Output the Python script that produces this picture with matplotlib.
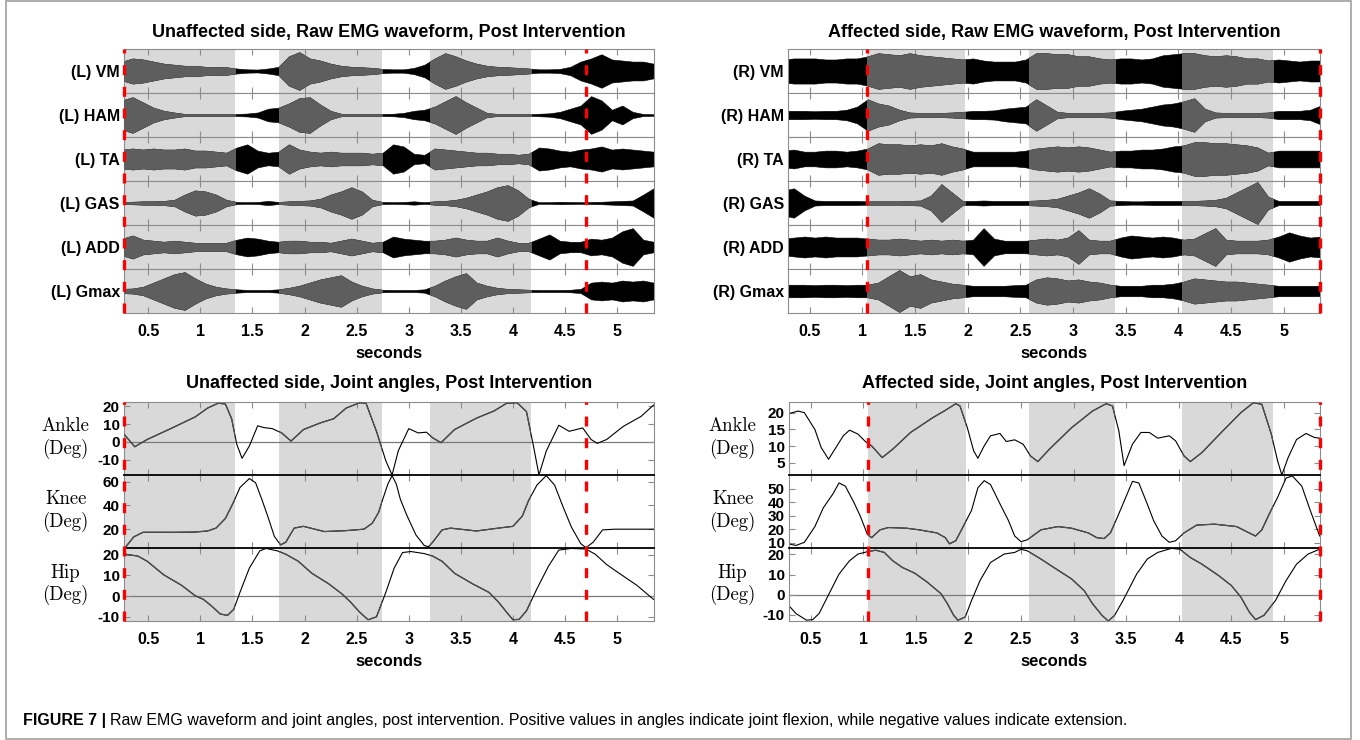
import numpy as np
import matplotlib
matplotlib.use("Agg")
import matplotlib.pyplot as plt
from matplotlib.patches import Rectangle

plt.rcParams['font.family'] = 'Liberation Sans'
plt.rcParams['axes.unicode_minus'] = False

W, H = 1360, 740

# ---- EMG envelopes (half amplitude, 0..1), sampled every 0.1 s ----
emg_t = np.round(np.arange(0.25, 5.36, 0.1), 2)

vm_l = [0.45, 0.6, 0.55, 0.45, 0.35, 0.3, 0.25, 0.25, 0.2, 0.2, 0.18, 0.12, 0.08, 0.07, 0.12, 0.2, 0.7, 0.9, 0.6, 0.5,
        0.35, 0.25, 0.2, 0.18, 0.15, 0.1, 0.08, 0.08, 0.15, 0.3, 0.6, 0.85, 0.7, 0.5, 0.35, 0.25, 0.2, 0.18, 0.15, 0.12,
        0.08, 0.08, 0.1, 0.2, 0.45, 0.6, 0.8, 0.55, 0.5, 0.45, 0.45, 0.35]
ham_l = [0.7, 0.85, 0.6, 0.35, 0.2, 0.12, 0.05, 0.04, 0.04, 0.04, 0.04, 0.05, 0.07, 0.12, 0.3, 0.35, 0.55, 0.8, 0.85, 0.5,
         0.2, 0.06, 0.04, 0.04, 0.04, 0.05, 0.06, 0.1, 0.2, 0.25, 0.4, 0.65, 0.9, 0.6, 0.35, 0.1, 0.05, 0.04, 0.04, 0.04,
         0.06, 0.08, 0.15, 0.3, 0.45, 0.9, 0.7, 0.25, 0.45, 0.15, 0.05, 0.04]
ta_l = [0.45, 0.5, 0.45, 0.5, 0.45, 0.45, 0.5, 0.4, 0.4, 0.35, 0.3, 0.55, 0.7, 0.4, 0.3, 0.35, 0.7, 0.45, 0.35, 0.3,
        0.35, 0.3, 0.3, 0.3, 0.25, 0.3, 0.7, 0.6, 0.25, 0.2, 0.5, 0.45, 0.4, 0.35, 0.3, 0.3, 0.25, 0.25, 0.2, 0.25,
        0.55, 0.5, 0.4, 0.35, 0.45, 0.5, 0.6, 0.45, 0.5, 0.45, 0.4, 0.35]
gas_l = [0.05, 0.06, 0.08, 0.08, 0.1, 0.15, 0.4, 0.6, 0.55, 0.4, 0.15, 0.05, 0.04, 0.05, 0.1, 0.05, 0.08, 0.1, 0.12, 0.2,
         0.4, 0.55, 0.75, 0.55, 0.15, 0.05, 0.04, 0.05, 0.08, 0.04, 0.08, 0.1, 0.15, 0.25, 0.4, 0.55, 0.75, 0.85, 0.6, 0.2,
         0.04, 0.04, 0.06, 0.05, 0.04, 0.05, 0.06, 0.08, 0.1, 0.12, 0.4, 0.7]
add_l = [0.4, 0.55, 0.35, 0.3, 0.25, 0.3, 0.25, 0.2, 0.2, 0.2, 0.2, 0.35, 0.45, 0.4, 0.3, 0.25, 0.3, 0.3, 0.25, 0.25,
         0.2, 0.3, 0.4, 0.3, 0.2, 0.25, 0.5, 0.4, 0.35, 0.3, 0.3, 0.35, 0.45, 0.35, 0.3, 0.3, 0.45, 0.3, 0.2, 0.2,
         0.4, 0.6, 0.3, 0.25, 0.25, 0.4, 0.35, 0.45, 0.75, 0.9, 0.35, 0.25]
gmax_l = [0.1, 0.12, 0.2, 0.4, 0.6, 0.8, 0.9, 0.6, 0.35, 0.2, 0.12, 0.08, 0.05, 0.05, 0.05, 0.08, 0.15, 0.25, 0.4, 0.55,
          0.65, 0.75, 0.45, 0.25, 0.12, 0.06, 0.05, 0.05, 0.05, 0.08, 0.25, 0.5, 0.7, 0.85, 0.4, 0.25, 0.15, 0.1, 0.08, 0.06,
          0.05, 0.05, 0.05, 0.06, 0.1, 0.4, 0.45, 0.4, 0.5, 0.45, 0.5, 0.4]

vm_r = [0.55, 0.6, 0.6, 0.6, 0.55, 0.55, 0.6, 0.6, 0.7, 0.85, 0.8, 0.75, 0.85, 0.75, 0.7, 0.65, 0.6, 0.55, 0.6, 0.5,
        0.45, 0.45, 0.45, 0.55, 0.85, 0.85, 0.8, 0.8, 0.7, 0.7, 0.6, 0.55, 0.6, 0.6, 0.55, 0.6, 0.75, 0.8, 0.85, 0.85,
        0.75, 0.7, 0.75, 0.7, 0.6, 0.6, 0.5, 0.55, 0.5, 0.45, 0.5, 0.5]
ham_r = [0.2, 0.2, 0.2, 0.18, 0.2, 0.2, 0.25, 0.4, 0.75, 0.55, 0.45, 0.25, 0.12, 0.1, 0.1, 0.1, 0.12, 0.15, 0.2, 0.2,
         0.22, 0.3, 0.35, 0.4, 0.75, 0.45, 0.15, 0.1, 0.1, 0.1, 0.1, 0.12, 0.2, 0.25, 0.3, 0.4, 0.5, 0.55, 0.65, 0.8,
         0.3, 0.12, 0.1, 0.1, 0.1, 0.1, 0.12, 0.2, 0.2, 0.2, 0.25, 0.45]
ta_r = [0.4, 0.45, 0.35, 0.35, 0.4, 0.4, 0.35, 0.4, 0.5, 0.75, 0.7, 0.7, 0.65, 0.7, 0.65, 0.75, 0.6, 0.5, 0.35, 0.35,
        0.35, 0.35, 0.35, 0.4, 0.5, 0.55, 0.6, 0.55, 0.6, 0.55, 0.45, 0.35, 0.4, 0.4, 0.45, 0.45, 0.5, 0.6, 0.65, 0.8,
        0.8, 0.75, 0.75, 0.7, 0.65, 0.55, 0.3, 0.4, 0.4, 0.4, 0.4, 0.4]
gas_r = [0.6, 0.7, 0.35, 0.12, 0.1, 0.1, 0.1, 0.1, 0.08, 0.08, 0.08, 0.08, 0.1, 0.12, 0.35, 0.9, 0.5, 0.1, 0.1, 0.12,
         0.1, 0.1, 0.1, 0.1, 0.12, 0.15, 0.2, 0.35, 0.5, 0.7, 0.45, 0.12, 0.1, 0.08, 0.08, 0.1, 0.1, 0.1, 0.1, 0.1,
         0.12, 0.15, 0.25, 0.5, 0.75, 1.0, 0.3, 0.1, 0.1, 0.1, 0.1, 0.1]
add_r = [0.4, 0.45, 0.5, 0.45, 0.5, 0.45, 0.45, 0.45, 0.4, 0.35, 0.35, 0.4, 0.35, 0.3, 0.35, 0.3, 0.35, 0.3, 0.35, 0.9,
         0.4, 0.3, 0.3, 0.3, 0.35, 0.4, 0.35, 0.45, 0.8, 0.35, 0.3, 0.3, 0.45, 0.55, 0.5, 0.45, 0.5, 0.45, 0.35, 0.4,
         0.65, 0.9, 0.35, 0.3, 0.3, 0.3, 0.35, 0.5, 0.7, 0.55, 0.45, 0.5]
gmax_r = [0.3, 0.3, 0.3, 0.28, 0.3, 0.3, 0.28, 0.3, 0.3, 0.4, 0.7, 1.0, 0.7, 0.8, 0.55, 0.45, 0.35, 0.3, 0.25, 0.25,
          0.25, 0.25, 0.28, 0.3, 0.55, 0.65, 0.6, 0.5, 0.55, 0.45, 0.4, 0.3, 0.25, 0.25, 0.25, 0.3, 0.3, 0.35, 0.45, 0.6,
          0.55, 0.5, 0.45, 0.45, 0.4, 0.35, 0.3, 0.25, 0.25, 0.25, 0.25, 0.25]

muscles_l = ['(L) VM', '(L) HAM', '(L) TA', '(L) GAS', '(L) ADD', '(L) Gmax']
muscles_r = ['(R) VM', '(R) HAM', '(R) TA', '(R) GAS', '(R) ADD', '(R) Gmax']

# ---- joint angles (deg) ----
ank_l_t = [0.27, 0.37, 0.49, 0.74, 0.95, 1.07, 1.17, 1.24, 1.30, 1.35, 1.40, 1.47, 1.55, 1.61, 1.69, 1.78, 1.87, 1.99,
           2.15, 2.28, 2.40, 2.53, 2.59, 2.69, 2.78, 2.84, 2.90, 3.00, 3.09, 3.17, 3.23, 3.31, 3.44, 3.65, 3.82, 3.94,
           4.04, 4.13, 4.20, 4.25, 4.32, 4.44, 4.54, 4.67, 4.75, 4.81, 4.90, 5.06, 5.23, 5.35]
ank_l = [4.1, -2.8, 1.3, 8.1, 14, 19, 21.7, 21.3, 13, -1.5, -9.3, -2.4, 9, 8, 7.4, 5, 0.4, 6.9, 10.6, 13, 19, 22, 21.7,
         5.9, -10.7, -18.7, -5, 7.4, 5, 5.4, 2.2, -0.5, 6.9, 13.3, 17.4, 21.7, 22, 17, -3.3, -18.7, -5.2, 9.3, 5.9, 7.8,
         1.3, -0.9, 1.3, 8.7, 14.3, 20.7]
kne_l_t = [0.28, 0.36, 0.45, 0.74, 0.95, 1.07, 1.15, 1.24, 1.32, 1.38, 1.47, 1.53, 1.59, 1.65, 1.71, 1.77, 1.82, 1.90,
           1.99, 2.19, 2.40, 2.57, 2.65, 2.71, 2.75, 2.80, 2.84, 2.88, 2.92, 2.98, 3.07, 3.15, 3.19, 3.23, 3.32, 3.40,
           3.65, 3.86, 4.00, 4.09, 4.15, 4.23, 4.32, 4.40, 4.48, 4.56, 4.65, 4.70, 4.77, 4.86, 4.98, 5.35]
kne_l = [4.7, 13.5, 17.4, 17.4, 17.6, 18.5, 20.9, 29, 43, 55, 62.5, 59, 45, 30, 14, 6.8, 9.1, 20.9, 22.4, 18, 18.8, 20,
         25, 34, 45, 58, 65, 58, 45, 32, 15, 6.2, 5.3, 9.1, 19.4, 20.9, 18.5, 20.9, 22.4, 31, 44, 57, 65, 57, 39, 22, 8,
         4.5, 9, 19.4, 20, 20]
hip_l_t = [0.28, 0.40, 0.49, 0.65, 0.82, 0.95, 1.03, 1.11, 1.19, 1.26, 1.32, 1.38, 1.47, 1.57, 1.63, 1.74, 1.82, 1.94,
           2.07, 2.23, 2.36, 2.44, 2.53, 2.61, 2.69, 2.78, 2.86, 2.94, 3.02, 3.15, 3.23, 3.32, 3.44, 3.61, 3.77, 3.86,
           3.94, 4.00, 4.06, 4.13, 4.23, 4.34, 4.44, 4.56, 4.70, 4.79, 4.90, 5.02, 5.19, 5.35]
hip_l = [20.2, 19.3, 16.8, 10.2, 5.2, 0.2, -1.6, -4.9, -8.6, -9.3, -6.4, 1.8, 13.5, 21.8, 23, 21.8, 20.2, 16.8, 11, 6, 1,
         -2.8, -7.8, -11.4, -10, 1.8, 13.5, 21, 21.5, 20.5, 19.3, 16.8, 11, 6, 1.8, -2.8, -7.8, -11.4, -11.2, -7.1, 3.5,
         14.3, 22.2, 23, 22.7, 20.2, 15.2, 11, 5.2, -1.6]

ank_r_t = [0.29, 0.38, 0.44, 0.54, 0.60, 0.67, 0.73, 0.81, 0.87, 0.95, 1.02, 1.08, 1.18, 1.28, 1.45, 1.66, 1.78, 1.88,
           1.92, 1.99, 2.05, 2.09, 2.15, 2.21, 2.30, 2.36, 2.44, 2.52, 2.59, 2.66, 2.77, 2.98, 3.18, 3.31, 3.37, 3.43,
           3.48, 3.56, 3.64, 3.72, 3.80, 3.91, 3.97, 4.05, 4.11, 4.22, 4.42, 4.59, 4.71, 4.79, 4.88, 4.94, 4.98, 5.04,
           5.12, 5.21, 5.29, 5.34]
ank_r = [19.7, 20.5, 20, 15, 9.6, 6.1, 9.1, 13.1, 14.8, 13.6, 11.4, 10.1, 6.6, 9.1, 14.1, 18.5, 20.7, 22.7, 22, 15.5,
         8.6, 6.4, 10.1, 13.1, 13.8, 11.4, 11.9, 10.6, 7.1, 5.4, 9.1, 15.5, 20.5, 22.7, 22, 14.6, 4.2, 10.6, 14.1, 14.1,
         12.4, 13.1, 11.6, 7.1, 5.4, 8.1, 14.6, 20, 23, 22.5, 13.6, 5.6, 1.4, 6.6, 12, 13.8, 12.6, 12.4]
kne_r_t = [0.29, 0.36, 0.44, 0.54, 0.62, 0.71, 0.77, 0.83, 0.91, 0.97, 1.04, 1.08, 1.16, 1.24, 1.41, 1.53, 1.70, 1.78,
           1.82, 1.88, 1.95, 2.03, 2.09, 2.15, 2.21, 2.30, 2.38, 2.44, 2.50, 2.56, 2.69, 2.85, 2.98, 3.14, 3.22, 3.29,
           3.35, 3.41, 3.47, 3.56, 3.62, 3.70, 3.76, 3.84, 3.91, 3.97, 4.05, 4.17, 4.34, 4.55, 4.67, 4.73, 4.79, 4.86,
           4.94, 5.02, 5.08, 5.17, 5.25, 5.34]
kne_r = [9.1, 7.9, 10.2, 21.9, 35.8, 46, 54.3, 51.9, 40, 30, 16, 13.7, 19.5, 21.2, 20.7, 19.5, 17.2, 13.7, 9.1, 11.4,
         21.9, 34, 50.7, 56, 53.1, 38.8, 26.5, 14.9, 10.7, 12.1, 19.5, 21.9, 20.7, 17.2, 13.7, 13, 17.2, 27.7, 38.8,
         55.5, 54.3, 38.8, 26.5, 14.9, 10.2, 11.4, 17.2, 23, 23.7, 21.9, 17.2, 14.9, 19.5, 31.2, 43.6, 57.9, 59.5, 51.9,
         34, 14.9]
hip_r_t = [0.29, 0.36, 0.46, 0.52, 0.58, 0.67, 0.77, 0.87, 0.95, 1.05, 1.12, 1.20, 1.28, 1.37, 1.49, 1.61, 1.74, 1.80,
           1.86, 1.90, 1.97, 2.03, 2.11, 2.21, 2.34, 2.44, 2.50, 2.56, 2.69, 2.81, 2.98, 3.10, 3.18, 3.27, 3.33, 3.39,
           3.47, 3.60, 3.70, 3.80, 3.93, 4.01, 4.11, 4.22, 4.38, 4.50, 4.59, 4.67, 4.73, 4.81, 4.92, 5.02, 5.12, 5.23,
           5.34]
hip_r = [-5.2, -9.3, -12.6, -12.3, -9.3, 0, 10.3, 16.9, 20.2, 21.5, 22.1, 21, 16.9, 13.6, 10.7, 6.2, 0.5, -4.4, -10.2,
         -12.6, -11, -2.8, 7, 16, 20.2, 21, 22.6, 21.8, 17.7, 13.6, 7.9, 2.1, -4.4, -10.2, -13, -10.2, -2.8, 10.3, 17.7,
         21, 23, 22.6, 18.5, 15.2, 9.5, 4.6, -1.1, -8.5, -12.3, -10.2, -2.8, 7, 15.2, 20.2, 22.6]

# stance windows (shaded) and heel-strike markers
spans_l = [(0.267, 1.332), (1.756, 2.742), (3.204, 4.169)]
spans_r = [(1.045, 1.974), (2.577, 3.398), (4.03, 4.897)]
events_l = [0.267, 4.70]
events_r = [1.045, 5.343]
xlim_l = (0.267, 5.354)
xlim_r = (0.294, 5.343)
xt = [0.5, 1, 1.5, 2, 2.5, 3, 3.5, 4, 4.5, 5]
xt_lab = ['0.5', '1', '1.5', '2', '2.5', '3', '3.5', '4', '4.5', '5']

SHADE = '#d9d9d9'
SIG_GRAY = '#5e5e5e'
AX_COL = '#8c8c8c'


def rect(x0, y0, x1, y1):
    return [x0 / W, 1 - y1 / H, (x1 - x0) / W, (y1 - y0) / H]


fig = plt.figure(figsize=(W / 100, H / 100), dpi=100)
fig.patches.append(Rectangle((6 / W, 1 / H), (1351 - 6) / W, (739 - 1) / H, transform=fig.transFigure,
                             fill=False, edgecolor='#a0a0a0', lw=1.2))


def style_ax(ax, xlim, bottom):
    ax.set_xlim(*xlim)
    ax.set_xticks(xt)
    ax.set_xticklabels(xt_lab if bottom else [])
    ax.tick_params(axis='x', direction='in', top=True, length=4, color=AX_COL, labelsize=11.5, pad=8)
    for lab in ax.get_xticklabels():
        lab.set_fontweight('bold')
    for s in ax.spines.values():
        s.set_color(AX_COL)
        s.set_linewidth(0.8)
    if bottom:
        ax.set_xlabel('seconds', fontsize=12, fontweight='bold', labelpad=5)


def emg_panel(x0, x1, xlim, spans, events, names, sigs, title):
    top, bot = 49, 313
    rh = (bot - top) / len(sigs)
    for i, (nm, env) in enumerate(zip(names, sigs)):
        ax = fig.add_axes(rect(x0, top + i * rh, x1, top + (i + 1) * rh))
        env = np.asarray(env)
        for a, b in spans:
            ax.axvspan(a, b, color=SHADE, lw=0, zorder=0)
        ax.fill_between(emg_t, -env, env, color='black', lw=0.4, zorder=2)
        for a, b in spans:
            g = ax.fill_between(emg_t, -env, env, color=SIG_GRAY, lw=0.4, zorder=3)
            g.set_clip_path(Rectangle((a, -1), b - a, 2, transform=ax.transData))
        ax.axhline(0, color='black', lw=0.6, zorder=2.5)
        ax.set_ylim(-1.05, 1.05)
        ax.set_yticks([0])
        ax.set_yticklabels([nm], fontsize=11.5, fontweight='bold')
        ax.tick_params(axis='y', length=0, pad=3)
        style_ax(ax, xlim, i == len(sigs) - 1)
    ov = fig.add_axes(rect(x0, top, x1, bot))
    ov.set_xlim(*xlim)
    ov.set_ylim(0, 1)
    ov.axis('off')
    for e in events:
        ov.axvline(e, color='#ff0000', lw=2.4, ls=(0, (3, 3.5)), clip_on=False, zorder=5)
    fig.text((x0 + x1) / 2 / W, 1 - 32 / H, title, ha='center', va='center', fontsize=13, fontweight='bold')


def joint_panel(x0, x1, xlim, spans, events, rows, title, lab_x):
    top, bot = 402, 621
    rh = (bot - top) / len(rows)
    for i, (nm, t, v, ylim, ticks, zero) in enumerate(rows):
        ax = fig.add_axes(rect(x0, top + i * rh, x1, top + (i + 1) * rh))
        for a, b in spans:
            ax.axvspan(a, b, color=SHADE, lw=0, zorder=0)
        if zero:
            ax.axhline(0, color='#7a7a7a', lw=0.9, zorder=1)
        ax.plot(t, v, color='black', lw=0.8, zorder=2)
        for a, b in spans:
            ln, = ax.plot(t, v, color='#505050', lw=0.9, zorder=3)
            ln.set_clip_path(Rectangle((a, ylim[0]), b - a, ylim[1] - ylim[0], transform=ax.transData))
        ax.set_ylim(*ylim)
        ax.set_yticks(ticks)
        ax.set_yticklabels([str(k) for k in ticks], fontsize=11, fontweight='bold')
        ax.tick_params(axis='y', direction='in', right=True, length=4, color=AX_COL, pad=3)
        style_ax(ax, xlim, i == len(rows) - 1)
        if i > 0:
            ax.spines['top'].set_color('black')
            ax.spines['top'].set_linewidth(1.3)
        ax.set_ylabel(nm + '\n(Deg)', rotation=0, fontfamily='cmr10', fontsize=13.5,
                      ha='center', va='center', linespacing=1.25)
        ax.yaxis.set_label_coords(lab_x, 0.5)
    ov = fig.add_axes(rect(x0, top, x1, bot))
    ov.set_xlim(*xlim)
    ov.set_ylim(0, 1)
    ov.axis('off')
    for e in events:
        ov.axvline(e, color='#ff0000', lw=2.4, ls=(0, (3, 3.5)), clip_on=False, zorder=5)
    fig.text((x0 + x1) / 2 / W, 1 - 384 / H, title, ha='center', va='center', fontsize=13, fontweight='bold')


emg_panel(124, 654, xlim_l, spans_l, events_l, muscles_l,
          [vm_l, ham_l, ta_l, gas_l, add_l, gmax_l], 'Unaffected side, Raw EMG waveform, Post Intervention')
emg_panel(788, 1320, xlim_r, spans_r, events_r, muscles_r,
          [vm_r, ham_r, ta_r, gas_r, add_r, gmax_r], 'Affected side, Raw EMG waveform, Post Intervention')

joint_panel(124, 654, xlim_l, spans_l, events_l,
            [('Ankle', ank_l_t, ank_l, (-18.7, 22.4), [-10, 0, 10, 20], True),
             ('Knee', kne_l_t, kne_l, (4.2, 65.5), [20, 40, 60], False),
             ('Hip', hip_l_t, hip_l, (-12, 23.2), [-10, 0, 10, 20], True)],
            'Unaffected side, Joint angles, Post Intervention', -0.11)
joint_panel(789, 1320, xlim_r, spans_r, events_r,
            [('Ankle', ank_r_t, ank_r, (1.4, 23.2), [5, 10, 15, 20], False),
             ('Knee', kne_r_t, kne_r, (6.0, 60.2), [10, 20, 30, 40, 50], False),
             ('Hip', hip_r_t, hip_r, (-13, 23.2), [-10, 0, 10, 20], True)],
            'Affected side, Joint angles, Post Intervention', -0.106)

# caption
cap1 = fig.text(23 / W, 1 - 720 / H, 'FIGURE 7 |', fontsize=11.5, fontweight='bold', va='center')
fig.canvas.draw()
bb = cap1.get_window_extent()
fig.text(bb.x1 / W + 4 / W, 1 - 720 / H,
         'Raw EMG waveform and joint angles, post intervention. Positive values in angles indicate joint flexion, '
         'while negative values indicate extension.', fontsize=11.5, va='center')

fig.savefig('out.png', dpi=100)
